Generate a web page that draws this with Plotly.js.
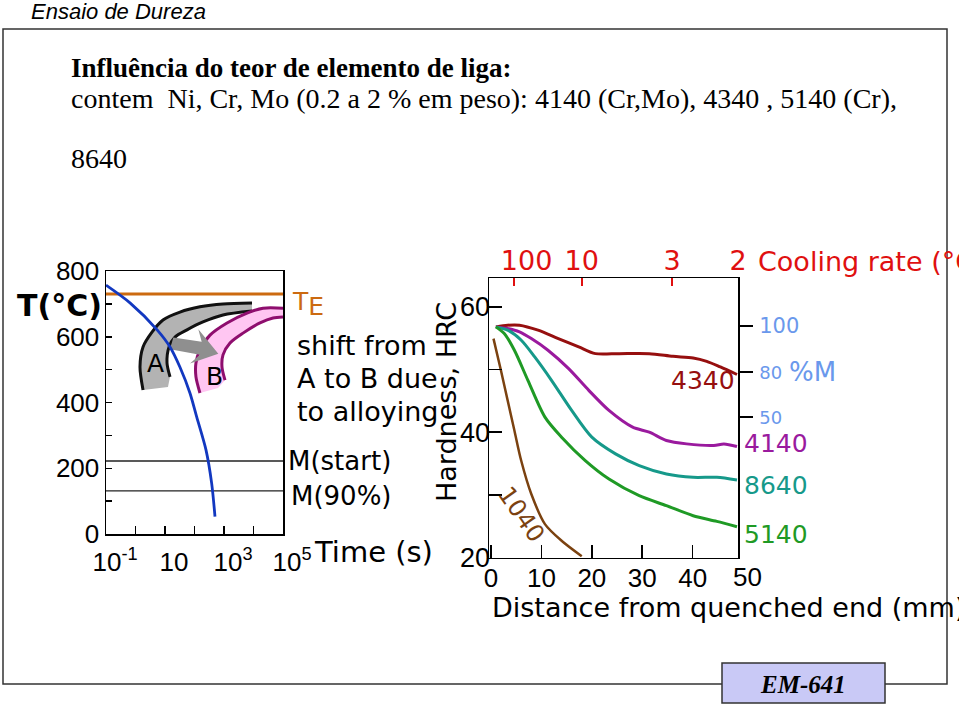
<!DOCTYPE html>
<html>
<head>
<meta charset="utf-8">
<script src="https://cdn.plot.ly/plotly-3.0.1.min.js"></script>
<style>html,body{margin:0;padding:0;background:#fff;}#chart{width:959px;height:708px;}</style>
</head>
<body>
<div id="chart"></div>
<script>
// ---------- Left chart: CCT / TTT schematic ----------
const coolTime = [0.1, 0.65, 5.4, 14.8, 32, 70, 118, 245, 382, 495];
const coolTemp = [757, 703, 621, 569, 508, 429, 357, 256, 154, 53];

const teTime = [0.1, 100000];
const teTemp = [730, 730];
const msTemp = [222, 222];
const m90Temp = [131, 131];

const aOuterTime = [1.80, 1.42, 1.80, 3.62, 8.55, 32.2, 153, 925, 8890];
const aOuterTemp = [438, 508, 569, 614, 651, 675, 691, 700, 703];
const aInnerTime = [14.8, 11.7, 13.7, 21.8, 55.7, 194, 925, 8890];
const aInnerTemp = [478, 520, 569, 599, 621, 645, 666, 678];
const aBottomTime = [12.6];
const aBottomTemp = [447];

const bOuterTime = [153, 112, 112, 153, 335, 1265, 6030, 21000, 100000];
const bOuterTemp = [429, 478, 520, 560, 605, 642, 672, 687, 687];
const bInnerTime = [1081, 855, 925, 1596, 4405, 16600, 45800, 100000];
const bInnerTemp = [468, 508, 545, 581, 611, 642, 657, 660];
const bBottomTime = [627];
const bBottomTemp = [444];

const arrowTime = [19.1, 175, 135, 641, 70.3, 153, 14.8, 19.1];
const arrowTemp = [598, 585, 623, 548, 519, 545, 562, 598];

const leftXTicks = [0.1, 10, 1000, 100000];
const leftXLabels = ['10<sup>-1</sup>', '10', '10<sup>3</sup>', '10<sup>5</sup>'];
const leftXMinor = [1, 100, 10000];
const leftYTicks = [0, 200, 400, 600, 800];
const leftYLabels = ['0', '200', '400', '600', '800'];
const leftYMinor = [100, 300, 500, 700];

// ---------- Right chart: Jominy hardness ----------
const distance4340 = [0.96, 3.3, 5.65, 9.33, 13.35, 17.4, 20.7, 25.4, 31.4, 36.1, 40.1, 42.8, 45.5, 48.8];
const hrc4340 = [56.8, 57.07, 57.07, 56.27, 54.93, 53.6, 52.53, 52.53, 52.53, 52.1, 51.84, 51.3, 50.4, 49.2];

const distance4140 = [0.96, 3.3, 5.65, 8.0, 11.3, 15.4, 19.4, 23.4, 28.1, 31.4, 34.8, 38.8, 44.2, 46.2, 48.8];
const hrc4140 = [56.8, 56.53, 56.0, 54.93, 53.07, 50.13, 46.67, 43.47, 40.8, 40.0, 38.67, 38.13, 37.87, 38.13, 37.71];

const distance8640 = [0.96, 3.3, 6.0, 8.67, 12.0, 16.0, 20.0, 24.7, 29.4, 34.8, 40.1, 44.8, 48.8];
const hrc8640 = [56.8, 56.27, 54.67, 52.0, 48.27, 43.47, 39.2, 36.53, 34.67, 33.33, 32.8, 32.8, 32.37];

const distance5140 = [0.96, 2.63, 4.64, 7.32, 10.7, 14.0, 18.7, 23.4, 29.4, 34.8, 40.1, 44.8, 48.8];
const hrc5140 = [56.8, 55.73, 53.07, 48.27, 42.4, 39.2, 35.47, 32.53, 29.87, 28.27, 26.67, 25.76, 24.9];

const distance1040 = [0.49, 1.96, 3.3, 4.64, 5.98, 7.99, 10.7, 14.0, 18.0];
const hrc1040 = [54.93, 49.87, 45.07, 40.27, 35.47, 30.13, 25.33, 22.67, 20.2];

const distTicks = [0, 10, 20, 30, 40];
const distLabels = ['0', '10', '20', '30', '40'];
const hrcTicks = [20, 40, 60];
const hrcLabels = ['20', '40', '60'];
const hrcMinor = [30, 50];
const coolRateTicks = [4.5, 18.0, 35.9, 49.0];
const coolRateLabels = ['\u00a0\u00a0\u00a0100', '10', '3', '2'];
const martTicks = [56.94, 49.6, 42.42];
const martLabels = ['100', '<span style="font-size:18px">80</span>', '<span style="font-size:18px">50</span>'];

// ---------- helpers (pixel -> paper) ----------
const W = 959, H = 708;
const px = x => x / W;
const py = y => 1 - y / H;
const ARIAL = 'Arial, Liberation Sans, sans-serif';
const DJV = 'DejaVu Sans, Arial, sans-serif';
const TIMES = 'Times New Roman, Liberation Serif, serif';

const C_TE = '#cc6a10', C_BLUE = '#1238c0', C_GRAYFILL = '#b3b3b3', C_PINK = '#ffc6f2', C_PURP = '#8e0e6e';
const C4340 = '#960f0f', C4140 = '#9a1a9e', C8640 = '#16998a', C5140 = '#1f9a25', C1040 = '#7b4210';
const C_RED = '#e01010', C_MBLUE = '#6a98ec';

function band(outerX, outerY, innerX, innerY, botX, botY, fill) {
  return {
    x: outerX.concat(innerX.slice().reverse(), botX, [outerX[0]]),
    y: outerY.concat(innerY.slice().reverse(), botY, [outerY[0]]),
    xaxis: 'x', yaxis: 'y', mode: 'lines', fill: 'toself', fillcolor: fill,
    line: {width: 0, color: fill}, hoverinfo: 'skip'
  };
}
function lline(x, y, color, width, xa, ya, shape) {
  return {x: x, y: y, xaxis: xa, yaxis: ya, mode: 'lines',
    line: {color: color, width: width, shape: shape || 'spline', smoothing: 0.8}, hoverinfo: 'skip'};
}

const traces = [
  band(aOuterTime, aOuterTemp, aInnerTime, aInnerTemp, aBottomTime, aBottomTemp, C_GRAYFILL),
  band(bOuterTime, bOuterTemp, bInnerTime, bInnerTemp, bBottomTime, bBottomTemp, C_PINK),
  lline(aOuterTime, aOuterTemp, '#111', 3, 'x', 'y'),
  lline(aInnerTime, aInnerTemp, '#111', 3, 'x', 'y'),
  lline(bOuterTime, bOuterTemp, C_PURP, 3, 'x', 'y'),
  lline(bInnerTime, bInnerTemp, C_PURP, 3, 'x', 'y'),
  {x: arrowTime, y: arrowTemp, xaxis: 'x', yaxis: 'y', mode: 'lines', fill: 'toself',
   fillcolor: '#8f8f8f', line: {width: 0, color: '#8f8f8f'}, hoverinfo: 'skip'},
  lline(teTime, teTemp, C_TE, 3, 'x', 'y', 'linear'),
  lline(teTime, msTemp, '#222', 1.3, 'x', 'y', 'linear'),
  lline(teTime, m90Temp, '#222', 1.3, 'x', 'y', 'linear'),
  lline(coolTime, coolTemp, C_BLUE, 2.8, 'x', 'y'),

  lline(distance4340, hrc4340, C4340, 3, 'x2', 'y2'),
  lline(distance4140, hrc4140, C4140, 3, 'x2', 'y2'),
  lline(distance8640, hrc8640, C8640, 3, 'x2', 'y2'),
  lline(distance5140, hrc5140, C5140, 3, 'x2', 'y2'),
  lline(distance1040, hrc1040, C1040, 2.5, 'x2', 'y2'),
  {x: [0], y: [40], xaxis: 'x3', yaxis: 'y3', mode: 'markers', marker: {opacity: 0}, hoverinfo: 'skip'}
];

function ann(text, x, y, size, color, opts) {
  return Object.assign({text: text, x: px(x), y: py(y), xref: 'paper', yref: 'paper',
    showarrow: false, xanchor: 'center', yanchor: 'middle',
    font: {family: DJV, size: size, color: color || '#000'}}, opts || {});
}

const annotations = [
  ann('<i>Ensaio de Dureza</i>', 29, 12, 22, '#000', {xanchor: 'left', font: {family: ARIAL, size: 22, color: '#000'}}),
  ann('<b>Influência do teor de elemento de liga:</b>', 69, 68, 27, '#000', {xanchor: 'left', font: {family: TIMES, size: 27, color: '#000'}}),
  ann('contem  Ni, Cr, Mo (0.2 a 2 % em peso): 4140 (Cr,Mo), 4340 , 5140 (Cr),', 69, 98, 28, '#000', {xanchor: 'left', font: {family: TIMES, size: 28, color: '#000'}}),
  ann('8640', 69, 158, 28, '#000', {xanchor: 'left', font: {family: TIMES, size: 28, color: '#000'}}),
  ann('<b><i>EM-641</i></b>', 803, 684, 25, '#000', {font: {family: TIMES, size: 25, color: '#000'}}),

  // left chart
  ann('<b>T(°C)</b>', 59, 306, 30),
  ann('T<sub><span style="font-size:25px">E</span></sub>', 290, 304, 25, C_TE, {xanchor: 'left'}),
  ann('A', 155, 363, 25),
  ann('B', 214, 376, 25),
  ann('shift from', 295, 345, 27, '#000', {xanchor: 'left'}),
  ann('A to B due', 295, 378, 27, '#000', {xanchor: 'left'}),
  ann('to alloying', 295, 411, 27, '#000', {xanchor: 'left'}),
  ann('M(start)', 286, 461, 26, '#000', {xanchor: 'left'}),
  ann('M(90%)', 289, 496, 26, '#000', {xanchor: 'left'}),
  ann('Time (s)', 312, 552, 29, '#000', {xanchor: 'left'}),

  // right chart
  ann('Hardness, HRC', 446, 402, 27, '#000', {textangle: -90}),
  ann('Cooling rate (°C/s)', 756, 261, 27, C_RED, {xanchor: 'left'}),
  ann('Distance from quenched end (mm)', 490, 607, 27, '#000', {xanchor: 'left'}),
  ann('50', 747, 577, 26, '#000', {font: {family: ARIAL, size: 26, color: '#000'}}),
  ann('%M', 812, 372, 26, C_MBLUE),
  ann('4340', 703, 380, 25, C4340),
  ann('4140', 776, 443, 25, C4140),
  ann('8640', 776, 486, 25, C8640),
  ann('5140', 776, 534, 25, C5140),
  ann('1040', 521, 514, 24, C1040, {textangle: 55})
];

const shapes = [
  {type: 'rect', xref: 'paper', yref: 'paper', x0: px(3), x1: px(947), y0: py(684), y1: py(29),
   line: {color: '#333', width: 1.5}, fillcolor: 'rgba(0,0,0,0)', layer: 'below'},
  {type: 'rect', xref: 'paper', yref: 'paper', x0: px(722), x1: px(885), y0: py(703), y1: py(663),
   line: {color: '#333', width: 1.5}, fillcolor: '#c9c9f6', layer: 'below'}
];

const axisBase = {showgrid: false, zeroline: false, showline: true, linecolor: '#000', linewidth: 1.5,
  mirror: true, ticks: 'inside', tickcolor: '#000', tickwidth: 1.5, fixedrange: true};

const layout = {
  width: W, height: H, margin: {l: 0, r: 0, t: 0, b: 0},
  paper_bgcolor: '#fff', plot_bgcolor: 'rgba(0,0,0,0)', showlegend: false, hovermode: false,
  font: {family: ARIAL, color: '#000'},
  xaxis: Object.assign({}, axisBase, {type: 'log', domain: [px(106), px(283)], range: [-1, 5], anchor: 'y',
    tickmode: 'array', tickvals: leftXTicks, ticktext: leftXLabels, ticklen: 8,
    minor: {tickvals: leftXMinor, ticks: 'inside', ticklen: 8, tickwidth: 1.5, tickcolor: '#000'},
    tickfont: {size: 26, family: ARIAL}, ticklabelshift: 9, ticklabelstandoff: 4}),
  yaxis: Object.assign({}, axisBase, {domain: [py(534), py(271)], range: [0, 800], anchor: 'x',
    tickmode: 'array', tickvals: leftYTicks, ticktext: leftYLabels, ticklen: 6,
    minor: {tickvals: leftYMinor, ticks: 'inside', ticklen: 6, tickwidth: 1.5, tickcolor: '#000'},
    tickfont: {size: 26, family: ARIAL}, ticklabelstandoff: 0}),
  xaxis2: Object.assign({}, axisBase, {domain: [px(489), px(738)], range: [-0.4, 49], anchor: 'y2',
    tickmode: 'array', tickvals: distTicks, ticktext: distLabels, ticklen: 13,
    tickfont: {size: 26, family: ARIAL}, ticklabelstandoff: -3}),
  yaxis2: Object.assign({}, axisBase, {domain: [py(557.5), py(278)], range: [20, 64.6], anchor: 'x2',
    tickmode: 'array', tickvals: hrcTicks, ticktext: hrcLabels, ticklen: 13,
    minor: {tickvals: hrcMinor, ticks: 'inside', ticklen: 13, tickwidth: 1.5, tickcolor: '#000'},
    tickfont: {size: 27, family: ARIAL}, ticklabelstandoff: -8}),
  xaxis3: {overlaying: 'x2', side: 'top', anchor: 'y2', range: [-0.4, 49], showgrid: false, zeroline: false,
    showline: false, ticks: 'inside', ticklen: 8, tickwidth: 2, tickcolor: C_RED,
    tickmode: 'array', tickvals: coolRateTicks, ticktext: coolRateLabels,
    tickfont: {size: 27, color: C_RED, family: DJV}, ticklabelstandoff: 2, fixedrange: true},
  yaxis3: {overlaying: 'y2', side: 'right', anchor: 'x2', range: [20, 64.6], showgrid: false, zeroline: false,
    showline: false, ticks: 'outside', ticklen: 14, tickwidth: 2, tickcolor: '#000',
    tickmode: 'array', tickvals: martTicks, ticktext: martLabels,
    tickfont: {size: 21, color: C_MBLUE, family: DJV}, ticklabelstandoff: 2, fixedrange: true},
  annotations: annotations,
  shapes: shapes
};

Plotly.newPlot('chart', traces, layout, {displayModeBar: false, staticPlot: true});
</script>
</body>
</html>
